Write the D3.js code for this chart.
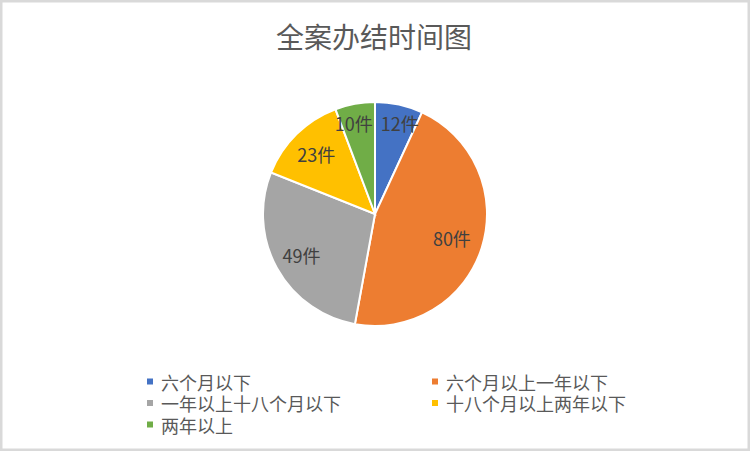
<!DOCTYPE html>
<html>
<head>
<meta charset="utf-8">
<script src="https://cdn.jsdelivr.net/npm/d3@7"></script>
<style>
  html, body { margin: 0; padding: 0; background: #fff; }
  svg { display: block; font-family: "Noto Sans CJK SC", "Noto Sans", sans-serif; }
</style>
</head>
<body>
<div id="chart"></div>
<script>
// chart data
const categories = ["六个月以下", "六个月以上一年以下", "一年以上十八个月以下", "十八个月以上两年以下", "两年以上"];
const counts = [12, 80, 49, 23, 10];
const colors = ["#4472C4", "#ED7D31", "#A5A5A5", "#FFC000", "#70AD47"];
const title = "全案办结时间图";
const unit = "件";

const WIDTH = 750, HEIGHT = 451;
const cx = 375, cy = 214, R = 112;

const svg = d3.select("#chart").append("svg")
    .attr("width", WIDTH)
    .attr("height", HEIGHT);

// white background + light frame
svg.append("rect")
    .attr("x", 1).attr("y", 1)
    .attr("width", WIDTH - 2).attr("height", HEIGHT - 2)
    .attr("fill", "#fff")
    .attr("stroke", "#d9d9d9")
    .attr("stroke-width", 3);

svg.append("text")
    .attr("x", WIDTH / 2 - 1)
    .attr("y", 36)
    .attr("text-anchor", "middle")
    .attr("dominant-baseline", "central")
    .attr("fill", "#595959")
    .style("font-size", "28px")
    .text(title);

const pie = d3.pie().sort(null).value(d => d)(counts);
const arc = d3.arc().innerRadius(0).outerRadius(R);

// best-fit style: thin slices get their label pushed further out
function labelPos(d) {
    const span = d.endAngle - d.startAngle;
    const r = span < Math.PI / 6 ? R * 0.83 : (span > Math.PI * 0.8 ? R * 0.72 : R * 0.75);
    return d3.arc().innerRadius(r).outerRadius(r).centroid(d);
}

const g = svg.append("g").attr("transform", `translate(${cx},${cy})`);

g.selectAll("path")
    .data(pie)
    .enter()
    .append("path")
    .attr("d", arc)
    .attr("fill", (d, i) => colors[i])
    .attr("stroke", "#fff")
    .attr("stroke-width", 2);

const labels = g.selectAll("text")
    .data(pie)
    .enter()
    .append("text")
    .attr("text-anchor", "middle")
    .attr("dominant-baseline", "central")
    .attr("fill", "#404040")
    .style("font-size", "18px")
    .text(d => d.data + unit);

// place labels, then push apart any that crowd each other sideways
const boxes = [];
labels.each(function(d) {
    const [x, y] = labelPos(d);
    boxes.push({ node: this, x, y, w: this.getComputedTextLength(), h: 18 });
});
const GAP = 8;
for (let i = 0; i < boxes.length; i++) {
    for (let j = i + 1; j < boxes.length; j++) {
        const a = boxes[i], b = boxes[j];
        if (Math.abs(a.y - b.y) >= (a.h + b.h) / 2) continue;
        const need = (a.w + b.w) / 2 + GAP - Math.abs(a.x - b.x);
        if (need > 0) {
            const s = a.x < b.x ? -1 : 1;
            a.x += s * need / 2;
            b.x -= s * need / 2;
        }
    }
}
boxes.forEach(b => d3.select(b.node).attr("transform", `translate(${b.x},${b.y})`));

// legend, two columns, row-major
const colX = [147, 432];
const rowY = d3.scaleLinear().domain([0, 1]).range([381.5, 403]);

const legend = svg.append("g").selectAll("g")
    .data(categories)
    .enter()
    .append("g")
    .attr("transform", (d, i) => `translate(${colX[i % 2]},${rowY(Math.floor(i / 2))})`);

legend.append("rect")
    .attr("x", 0).attr("y", -3)
    .attr("width", 6).attr("height", 6)
    .attr("fill", (d, i) => colors[i]);

legend.append("text")
    .attr("x", 14)
    .attr("y", 0)
    .attr("dominant-baseline", "central")
    .attr("fill", "#595959")
    .style("font-size", "18px")
    .text(d => d);
</script>
</body>
</html>
